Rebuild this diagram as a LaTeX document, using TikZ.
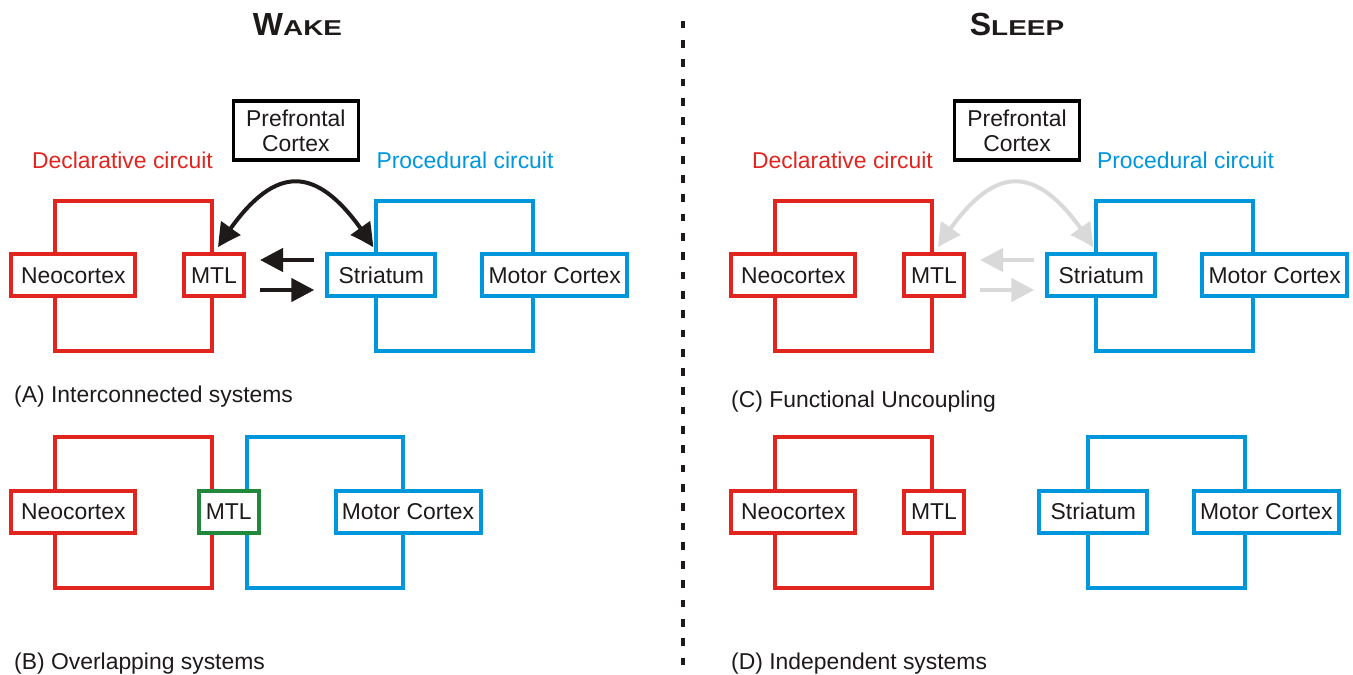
\documentclass[tikz,border=0pt]{standalone}
\usepackage{fontspec}
\setmainfont{Liberation Sans}
\usetikzlibrary{arrows.meta,calc,bending}
\definecolor{cred}{RGB}{226,36,30}
\definecolor{cblue}{RGB}{0,150,220}
\definecolor{cgreen}{RGB}{34,136,60}
\definecolor{cgray}{RGB}{217,217,217}
\definecolor{ctext}{RGB}{30,26,26}
\newcommand\mysc[1]{{\fontsize{21.5}{22}\selectfont\scalebox{1.3}[1]{#1}}}
\begin{document}
\begin{tikzpicture}[x=1pt,y=-1pt,
  txt/.style={font=\fontsize{22.9}{25}\selectfont, text=ctext, inner sep=0pt},
  box/.style={txt, draw, line width=4pt, fill=white, minimum height=42pt},
  redbox/.style={box, draw=cred},
  bluebox/.style={box, draw=cblue},
  greenbox/.style={box, draw=cgreen},
  pfcbox/.style={box, draw=black, line width=3.5pt, minimum width=125pt, minimum height=59pt, align=center},
  redlbl/.style={txt, text=cred, anchor=base},
  bluelbl/.style={txt, text=cblue, anchor=base},
  caption/.style={txt, anchor=base west},
  title/.style={font=\bfseries\fontsize{32}{32}\selectfont, text=ctext, inner sep=0pt, anchor=base},
  loopred/.style={draw=cred, line width=4pt},
  loopblue/.style={draw=cblue, line width=4pt},
  sepline/.style={draw=ctext, line width=4pt, dash pattern=on 7.7pt off 11.6pt},
  link/.style={line width=4.5pt, -{Triangle[length=23pt,width=23pt]}},
  curvelink/.style={line width=4pt, {Triangle[bend,length=24pt,width=23pt]}-{Triangle[bend,length=24pt,width=23pt]}},
]
\useasboundingbox (0,0) rectangle (1353,675);

% titles
\node[title] (wake) at (297.5,35) {W\mysc{AKE}};
\node[title] (sleep) at (1017,35) {S\mysc{LEEP}};

% separator
\draw[sepline] (682.7,20.7) -- (682.7,667);

% ---------------- Panel A ----------------
\draw[loopred] (55.3,201.3) rectangle (212,351.3);
\draw[loopblue] (376.3,201.3) rectangle (533,351.3);
\node[redbox, minimum width=124pt] (neoA) at (73.3,275.3) {Neocortex};
\node[redbox, minimum width=60pt] (mtlA) at (214,275.3) {MTL};
\node[bluebox, minimum width=108pt] (strA) at (381.3,275.3) {Striatum};
\node[bluebox, minimum width=145pt] (motA) at (554.7,275.3) {Motor Cortex};
\node[pfcbox] (pfcA) at (295.8,130.5) {Prefrontal\\Cortex};
\node[redlbl] (decA) at (122.5,168) {Declarative circuit};
\node[bluelbl] (proA) at (465,168) {Procedural circuit};
\coordinate (aL) at ($(mtlA.north)+(4,-5)$);
\coordinate (aR) at ($(strA.north)+(-8,-5)$);
\draw[curvelink, draw=ctext] (aL) .. controls +(55,-88) and +(-55,-88) .. (aR);
\draw[link, draw=ctext] ($(strA.west)+(-11,-15.3)$) -- ($(mtlA.east)+(14,-15.3)$);
\draw[link, draw=ctext] ($(mtlA.east)+(14,14.7)$) -- ($(strA.west)+(-11,14.7)$);
\node[caption] (capA) at (14,402) {(A) Interconnected systems};

% ---------------- Panel B ----------------
\draw[loopred] (55.3,437) rectangle (212,588);
\draw[loopblue] (246.7,437) rectangle (403.3,588);
\node[redbox, minimum width=124pt] (neoB) at (73.3,511.7) {Neocortex};
\node[greenbox, minimum width=60pt] (mtlB) at (228.7,511.7) {MTL};
\node[bluebox, minimum width=145pt] (motB) at (408,511.7) {Motor Cortex};
\node[caption] (capB) at (14,669) {(B) Overlapping systems};

% ---------------- Panel C ----------------
\draw[loopred] (775.3,201.3) rectangle (932,351.3);
\draw[loopblue] (1096.3,201.3) rectangle (1253,351.3);
\node[redbox, minimum width=124pt] (neoC) at (793.3,275.3) {Neocortex};
\node[redbox, minimum width=60pt] (mtlC) at (934,275.3) {MTL};
\node[bluebox, minimum width=108pt] (strC) at (1101.3,275.3) {Striatum};
\node[bluebox, minimum width=145pt] (motC) at (1274.7,275.3) {Motor Cortex};
\node[pfcbox] (pfcC) at (1017,130.5) {Prefrontal\\Cortex};
\node[redlbl] (decC) at (842.5,168) {Declarative circuit};
\node[bluelbl] (proC) at (1185.5,168) {Procedural circuit};
\coordinate (cL) at ($(mtlC.north)+(4,-5)$);
\coordinate (cR) at ($(strC.north)+(-8,-5)$);
\draw[curvelink, draw=cgray] (cL) .. controls +(55,-88) and +(-55,-88) .. (cR);
\draw[link, draw=cgray] ($(strC.west)+(-11,-15.3)$) -- ($(mtlC.east)+(14,-15.3)$);
\draw[link, draw=cgray] ($(mtlC.east)+(14,14.7)$) -- ($(strC.west)+(-11,14.7)$);
\node[caption] (capC) at (731,407) {(C) Functional Uncoupling};

% ---------------- Panel D ----------------
\draw[loopred] (775.3,437) rectangle (932,588);
\draw[loopblue] (1088.3,437) rectangle (1245,588);
\node[redbox, minimum width=124pt] (neoD) at (793.3,511.7) {Neocortex};
\node[redbox, minimum width=60pt] (mtlD) at (934,511.7) {MTL};
\node[bluebox, minimum width=108pt] (strD) at (1093.3,511.7) {Striatum};
\node[bluebox, minimum width=145pt] (motD) at (1266.3,511.7) {Motor Cortex};
\node[caption] (capD) at (731,669) {(D) Independent systems};
\end{tikzpicture}
\end{document}
